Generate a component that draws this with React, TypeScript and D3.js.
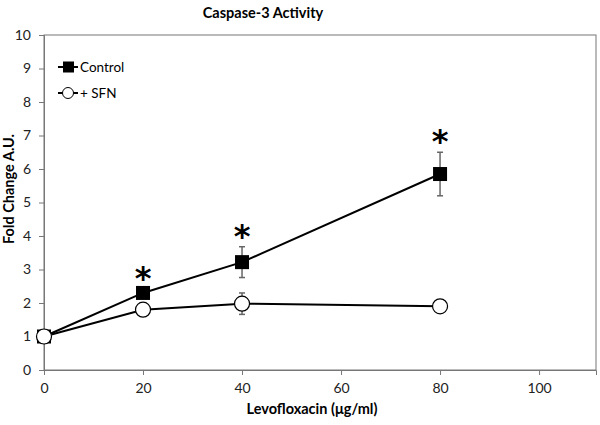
import { useEffect, useRef } from "react"
import * as d3 from "d3"

const doses = [0, 20, 40, 80]
const controlMean = [1.0, 2.3, 3.22, 5.85]
const controlErr = [0.05, 0.12, 0.46, 0.65]
const sfnMean = [1.0, 1.8, 1.98, 1.9]
const sfnErr = [0.05, 0.08, 0.32, 0.05]
const starDoses = [20, 40, 80]
const xTicks = [0, 20, 40, 60, 80, 100]
const yTicks = [0, 1, 2, 3, 4, 5, 6, 7, 8, 9, 10]

export default function App() {
  const svgRef = useRef<SVGSVGElement>(null)

  useEffect(() => {
    const width = 600, height = 425
    const margin = { top: 35, right: 4, bottom: 55, left: 44 }
    const wt = width - margin.left - margin.right
    const ht = height - margin.top - margin.bottom
    const font = "Lato, 'Open Sans', sans-serif"

    d3.select(svgRef.current).selectAll("*").remove()
    const root = d3.select(svgRef.current)
      .attr("width", width)
      .attr("height", height)
      .style("font-family", font)

    root.append("rect").attr("width", width).attr("height", height).attr("fill", "#fff")

    const svg = root.append("g")
      .attr("transform", `translate(${margin.left},${margin.top})`)

    const x = d3.scaleLinear().domain([0, 111.5]).range([0, wt])
    const y = d3.scaleLinear().domain([0, 10]).range([ht, 0])

    // frame
    svg.append("rect")
      .attr("width", wt).attr("height", ht)
      .attr("fill", "none").attr("stroke", "#777").attr("stroke-width", 1)

    const xAxis = svg.append("g")
      .attr("transform", `translate(0,${ht})`)
      .call(d3.axisBottom(x).tickValues(xTicks).tickSize(5).tickPadding(8).tickFormat(d3.format("d")))
    const yAxis = svg.append("g")
      .call(d3.axisLeft(y).tickValues(yTicks).tickSize(5).tickPadding(8).tickFormat(d3.format("d")))
    for (const ax of [xAxis, yAxis]) {
      ax.select(".domain").attr("stroke", "#777")
      ax.selectAll(".tick line").attr("stroke", "#777")
      ax.selectAll("text").style("font-family", font).style("font-size", "14px").attr("fill", "#222")
    }

    const line = d3.line<number>().x((d, i) => x(doses[i])).y(d => y(d))

    svg.append("path").datum(sfnMean).attr("d", line)
      .attr("fill", "none").attr("stroke", "#000").attr("stroke-width", 2)
    svg.append("path").datum(controlMean).attr("d", line)
      .attr("fill", "none").attr("stroke", "#000").attr("stroke-width", 2)

    const errBars = (means: number[], errs: number[]) => {
      const g = svg.append("g").attr("stroke", "#666").attr("stroke-width", 1.5)
      means.forEach((m, i) => {
        const cx = x(doses[i])
        g.append("line").attr("x1", cx).attr("x2", cx).attr("y1", y(m + errs[i])).attr("y2", y(m - errs[i]))
        g.append("line").attr("x1", cx - 3).attr("x2", cx + 3).attr("y1", y(m + errs[i])).attr("y2", y(m + errs[i]))
        g.append("line").attr("x1", cx - 3).attr("x2", cx + 3).attr("y1", y(m - errs[i])).attr("y2", y(m - errs[i]))
      })
    }
    errBars(controlMean, controlErr)
    errBars(sfnMean, sfnErr)

    svg.append("g").selectAll("rect")
      .data(controlMean)
      .join("rect")
        .attr("x", (d, i) => x(doses[i]) - 7)
        .attr("y", d => y(d) - 7)
        .attr("width", 14).attr("height", 14)
        .attr("fill", "#000")

    svg.append("g").selectAll("circle")
      .data(sfnMean)
      .join("circle")
        .attr("cx", (d, i) => x(doses[i]))
        .attr("cy", d => y(d))
        .attr("r", 7.5)
        .attr("fill", "#fff").attr("stroke", "#000").attr("stroke-width", 1.2)

    // significance stars
    svg.append("g").selectAll("text")
      .data(starDoses)
      .join("text")
        .attr("x", d => x(d))
        .attr("y", d => y(controlMean[doses.indexOf(d)] + controlErr[doses.indexOf(d)]) - 24)
        .attr("text-anchor", "middle")
        .attr("fill", "#000")
        .style("font-family", "'DejaVu Sans', sans-serif")
        .style("font-size", "32px")
        .style("font-weight", "bold")
        .attr("dy", "0.75em")
        .text("*")

    // legend
    const legend = svg.append("g").attr("transform", "translate(14,32)")
    legend.append("line").attr("x1", 0).attr("x2", 20).attr("y1", 0).attr("y2", 0).attr("stroke", "#000").attr("stroke-width", 2)
    legend.append("rect").attr("x", 5).attr("y", -5.5).attr("width", 11).attr("height", 11).attr("fill", "#000")
    legend.append("text").attr("x", 22).attr("y", 0).attr("dy", "0.35em").style("font-size", "13.5px").text("Control")
    legend.append("line").attr("x1", 0).attr("x2", 20).attr("y1", 26).attr("y2", 26).attr("stroke", "#000").attr("stroke-width", 2)
    legend.append("circle").attr("cx", 10).attr("cy", 26).attr("r", 5.5).attr("fill", "#fff").attr("stroke", "#000")
    legend.append("text").attr("x", 22).attr("y", 26).attr("dy", "0.35em").style("font-size", "13.5px").text("+ SFN")

    // title
    root.append("text")
      .attr("x", 263).attr("y", 18)
      .attr("text-anchor", "middle")
      .style("font-size", "14.5px").style("font-weight", "bold")
      .text("Caspase-3 Activity")

    // x-axis label
    root.append("text")
      .attr("x", 312).attr("y", 414)
      .attr("text-anchor", "middle")
      .style("font-size", "14.5px").style("font-weight", "bold")
      .text("Levofloxacin (μg/ml)")

    // y-axis label
    root.append("text")
      .attr("transform", "translate(14,189) rotate(-90)")
      .attr("text-anchor", "middle")
      .style("font-size", "14.5px").style("font-weight", "bold")
      .text("Fold Change A.U.")
  }, [])

  return <svg ref={svgRef} style={{ position: "absolute", left: 0, top: 0 }}></svg>
}
